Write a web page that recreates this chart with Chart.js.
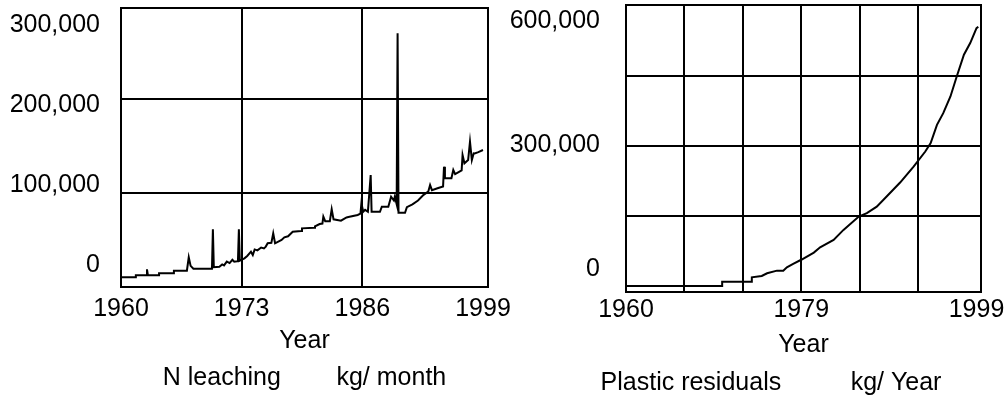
<!DOCTYPE html>
<html>
<head>
<meta charset="utf-8">
<script src="https://cdn.jsdelivr.net/npm/chart.js@4"></script>
<style>
  html, body { margin: 0; padding: 0; background: #fff; overflow: hidden; width: 1005px; height: 398px; }
  #wrap { position: relative; width: 1005px; height: 398px; overflow: hidden; }
  canvas { position: absolute; top: 0; }
  #nChart { left: 0; }
  #pChart { left: 500px; }
</style>
</head>
<body>
<div id="wrap">
  <canvas id="nChart" width="530" height="398"></canvas>
  <canvas id="pChart" width="560" height="398"></canvas>
</div>
<script>
// N leaching, kg/ month (left panel)
const nYears = [
  1960.0, 1961.6, 1961.6, 1962.7, 1962.8, 1962.9, 1964.1, 1964.1, 1965.7, 1965.7,
  1967.1, 1967.3, 1967.5, 1967.8, 1969.8, 1969.9, 1970.0, 1970.6, 1970.9, 1971.1,
  1971.4, 1971.7, 1972.0, 1972.2, 1972.6, 1972.7, 1972.8, 1973.3, 1973.6, 1974.0,
  1974.2, 1974.4, 1974.7, 1975.1, 1975.4, 1975.6, 1975.8, 1976.2, 1976.4, 1976.6,
  1977.3, 1977.6, 1978.0, 1978.5, 1979.4, 1979.5, 1980.8, 1980.9, 1981.4, 1981.7,
  1981.8, 1982.0, 1982.5, 1982.7, 1982.9, 1983.7, 1984.3, 1984.5, 1985.5, 1985.8,
  1985.9, 1986.1, 1986.3, 1986.6, 1986.9, 1987.0, 1987.9, 1988.1, 1988.8, 1989.1,
  1989.4, 1989.5, 1989.7, 1989.8, 1989.9, 1990.6, 1990.8, 1991.4, 1992.0, 1992.6,
  1993.1, 1993.3, 1993.5, 1994.1, 1994.7, 1994.8, 1994.9, 1995.6, 1995.8, 1996.0,
  1996.7, 1996.8, 1997.0, 1997.4, 1997.6, 1997.8, 1998.0, 1998.1, 1998.5, 1999.0
];
const nValues = [
  10300, 10300, 12400, 12400, 18800, 12400, 12400, 14600, 14600, 17300,
  17300, 31600, 22500, 19500, 19500, 61400, 21000, 21600, 24000, 23000,
  27000, 25500, 29000, 27000, 27500, 61400, 28000, 30500, 33000, 37600,
  34000, 40000, 39000, 42000, 41000, 43000, 46500, 47000, 57100, 46500,
  50000, 52900, 54000, 58800, 59500, 62400, 63000, 64400, 67000, 67500,
  74800, 70000, 70000, 82700, 72000, 70500, 74000, 74500, 76600, 78000,
  89000, 80000, 82000, 80000, 119000, 80000, 80000, 85400, 85400, 96000,
  92000, 96000, 88000, 269900, 79000, 79000, 85000, 88000, 92000, 98000,
  101400, 108500, 103000, 105000, 107000, 128000, 115600, 115600, 124500, 120000,
  124000, 140400, 131600, 135100, 154600, 135000, 142200, 142000, 143500, 145700
];
const nXTicks = [1960, 1973, 1986, 1999];
const nGridValues = [100000, 200000];
const nYLabels = [0, 100000, 200000, 300000];

// Plastic residuals, kg/ Year (right panel)
const pYears = [
  1960.0, 1970.7, 1970.7, 1974.0, 1974.0, 1975.1, 1975.7, 1976.8, 1977.5, 1977.9,
  1978.6, 1979.6, 1980.9, 1981.6, 1983.1, 1984.2, 1985.9, 1986.8, 1987.9, 1989.0,
  1990.5, 1992.0, 1993.3, 1993.9, 1994.6, 1995.3, 1996.1, 1996.8, 1997.6, 1998.3,
  1999.0, 1999.2
];
const pValues = [
  0, 0, 9200, 9200, 18600, 21400, 27200, 32800, 32800, 40100,
  47100, 57200, 71400, 82900, 98600, 120000, 148500, 155800, 169900, 191400,
  221400, 255600, 287800, 305800, 345000, 370000, 405600, 448500, 495000, 520000,
  552000, 555000
];
const pXTicks = [1960, 1966.5, 1973, 1979.5, 1986, 1992.5, 1999];
const pXLabels = ['1960', '', '', '1979', '', '', '1999'];
const pGridValues = [150000, 300000, 450000];
const pYLabels = [0, 300000, 600000];

const FONT = "'Liberation Sans', Arial, sans-serif";
const BLACK = '#000';
const NONE = 'rgba(0,0,0,0)';

const setTicks = vals => scale => { scale.ticks = vals.map(v => ({value: v})); };

// box around the plot area
const frame = {
  id: 'frame',
  afterDatasetsDraw(chart) {
    const {ctx, chartArea: a} = chart;
    ctx.save();
    ctx.strokeStyle = BLACK;
    ctx.lineWidth = 2;
    ctx.strokeRect(a.left, a.top, a.right - a.left, a.bottom - a.top);
    ctx.restore();
  }
};

const lineSet = (xs, ys) => ({
  data: xs.map((x, i) => ({x: x, y: ys[i]})),
  xAxisID: 'x',
  yAxisID: 'y',
  borderColor: BLACK,
  borderWidth: 2,
  pointRadius: 0,
  tension: 0,
  fill: false
});

// left: N leaching
new Chart(document.getElementById('nChart'), {
  type: 'line',
  data: {datasets: [lineSet(nYears, nValues)]},
  options: {
    responsive: false,
    animation: false,
    devicePixelRatio: 1,
    layout: {padding: {top: 8, right: 42, left: 0, bottom: 0}},
    plugins: {legend: {display: false}, tooltip: {enabled: false}},
    scales: {
      x: {
        type: 'linear', min: 1960, max: 1999.54, bounds: 'data',
        afterBuildTicks: setTicks(nXTicks),
        afterFit: s => { s.height = 111; s.paddingLeft = 0; s.paddingRight = 0; },
        grid: {color: c => (c.index > 0 && c.index < nXTicks.length - 1) ? BLACK : NONE, lineWidth: 2, drawTicks: false},
        border: {display: false},
        ticks: {color: BLACK, font: {family: FONT, size: 25, lineHeight: 1.2}, padding: 7,
                maxRotation: 0, minRotation: 0, autoSkip: false, callback: v => String(v)},
        title: {display: true, text: ['Year', 'N leaching\u00a0\u00a0\u00a0\u00a0\u00a0\u00a0\u00a0\u00a0kg/ month'],
                color: BLACK, font: {family: FONT, size: 25, lineHeight: 1.48}, padding: {top: 0, bottom: 1.5}}
      },
      y: {
        type: 'linear', position: 'left', min: 0, max: 296800, bounds: 'data',
        afterBuildTicks: setTicks(nGridValues),
        afterFit: s => { s.width = 0; s.paddingTop = 0; s.paddingBottom = 0; },
        grid: {color: BLACK, lineWidth: 2, drawTicks: false},
        border: {display: false},
        ticks: {display: false}
      },
      yLab: {
        type: 'linear', position: 'left', min: -26875, max: 321875, bounds: 'data',
        afterBuildTicks: setTicks(nYLabels),
        afterFit: s => { s.width = 121; s.paddingTop = 0; s.paddingBottom = 0; },
        grid: {display: false, drawTicks: false},
        border: {display: false},
        ticks: {color: BLACK, font: {family: FONT, size: 25}, padding: 21,
                callback: v => v.toLocaleString('en-US')}
      }
    }
  },
  plugins: [frame]
});

// right: Plastic residuals
new Chart(document.getElementById('pChart'), {
  type: 'line',
  data: {datasets: [lineSet(pYears, pValues)]},
  options: {
    responsive: false,
    animation: false,
    devicePixelRatio: 1,
    layout: {padding: {top: 5, right: 18, left: 0, bottom: 0}},
    plugins: {
      legend: {display: false},
      tooltip: {enabled: false},
      title: {display: true, position: 'bottom', align: 'center', color: BLACK,
              text: 'Plastic residuals\u00a0\u00a0\u00a0\u00a0\u00a0\u00a0\u00a0\u00a0\u00a0\u00a0kg/ Year',
              font: {family: FONT, size: 25, weight: 'normal', lineHeight: 1.2}, padding: {top: 2, bottom: 0}}
    },
    scales: {
      x: {
        type: 'linear', min: 1960, max: 1999.5, bounds: 'data',
        afterBuildTicks: setTicks(pXTicks),
        afterFit: s => { s.height = 74; s.paddingLeft = 0; s.paddingRight = 0; },
        grid: {color: c => (c.index > 0 && c.index < pXTicks.length - 1) ? BLACK : NONE, lineWidth: 2, drawTicks: false},
        border: {display: false},
        ticks: {color: BLACK, font: {family: FONT, size: 25, lineHeight: 1.2}, padding: 3,
                maxRotation: 0, minRotation: 0, autoSkip: false, callback: (v, i) => pXLabels[i]},
        title: {display: true, text: 'Year', color: BLACK,
                font: {family: FONT, size: 25, lineHeight: 1.2}, padding: {top: 0, bottom: 6}}
      },
      y: {
        type: 'linear', position: 'left', min: -12900, max: 601500, bounds: 'data',
        afterBuildTicks: setTicks(pGridValues),
        afterFit: s => { s.width = 0; s.paddingTop = 0; s.paddingBottom = 0; },
        grid: {color: BLACK, lineWidth: 2, drawTicks: false},
        border: {display: false},
        ticks: {display: false}
      },
      yLab: {
        type: 'linear', position: 'left', min: -55650, max: 638800, bounds: 'data',
        afterBuildTicks: setTicks(pYLabels),
        afterFit: s => { s.width = 126; s.paddingTop = 0; s.paddingBottom = 0; },
        grid: {display: false, drawTicks: false},
        border: {display: false},
        ticks: {color: BLACK, font: {family: FONT, size: 25}, padding: 26,
                callback: v => v.toLocaleString('en-US')}
      },
      // empty strip on the right so the bottom caption sits where it does in the original
      yPad: {
        type: 'linear', position: 'right', min: 0, max: 1,
        afterFit: s => { s.width = 61; s.paddingTop = 0; s.paddingBottom = 0; },
        grid: {display: false, drawTicks: false},
        border: {display: false},
        ticks: {display: false}
      }
    }
  },
  plugins: [frame]
});
</script>
</body>
</html>
